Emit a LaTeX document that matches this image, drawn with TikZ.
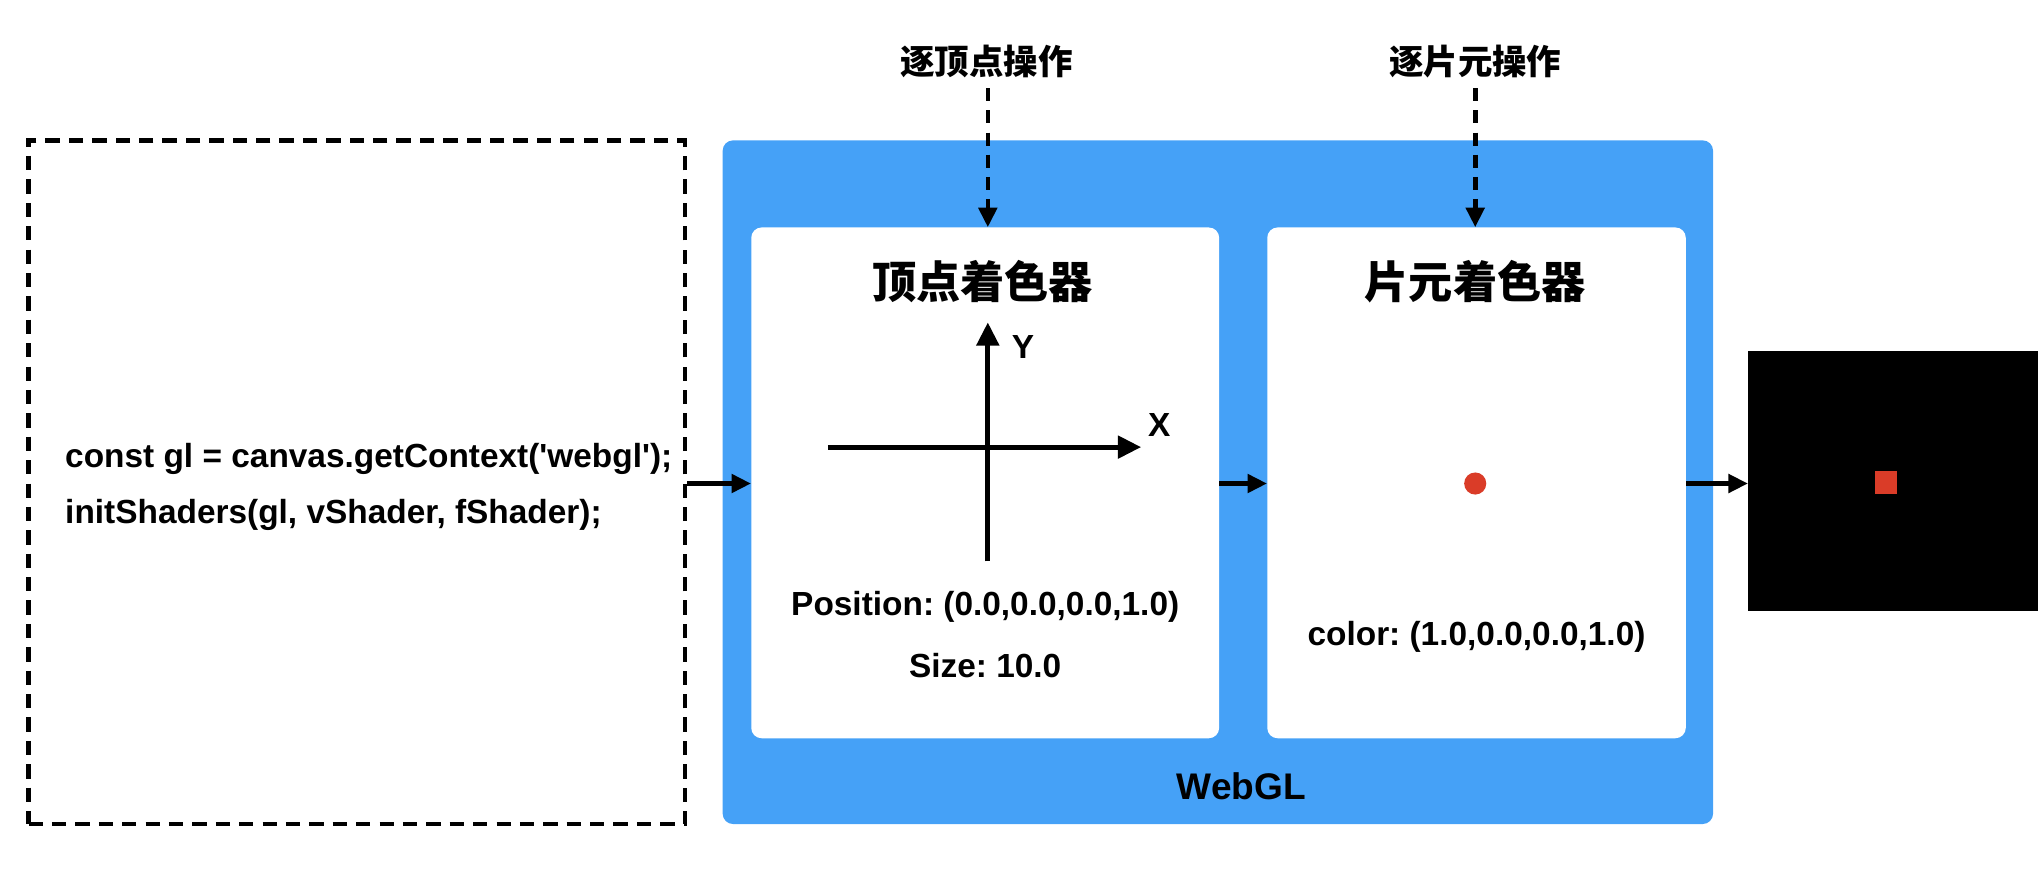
\documentclass[tikz,border=0pt]{standalone}
\usepackage{fontspec}
\setmainfont{Liberation Sans}[Ligatures=TeXOff]
\newfontfamily\cjk{Noto Sans CJK SC}
\usetikzlibrary{arrows.meta}
\definecolor{glblue}{RGB}{69,161,247}
\definecolor{dotred}{RGB}{218,60,40}
\frenchspacing
\tikzset{
  txt/.style={inner sep=0pt, font=\fontsize{25.7}{30}\selectfont\bfseries},
  cjktitle/.style={inner sep=0pt, font=\fontsize{34}{40}\selectfont\cjk\bfseries},
  cjklabel/.style={inner sep=0pt, font=\fontsize{26.5}{32}\selectfont\cjk\bfseries},
  conn/.style={line width=3.5pt, -{Triangle[length=15pt,width=14pt]}},
  dconn/.style={line width=3.5pt, dash pattern=on 10pt off 7pt, -{Triangle[length=15pt,width=14pt]}},
  axis/.style={line width=4pt, -{Triangle[length=18pt,width=17pt]}},
  whitebox/.style={fill=white, rounded corners=8pt, inner sep=0pt},
}
\begin{document}
\begin{tikzpicture}[x=1pt,y=-1pt]
\useasboundingbox (0,0) rectangle (1568,674);
% code box
\node[draw, line width=3.5pt, dash pattern=on 11pt off 7pt, minimum width=505pt, minimum height=526pt, inner sep=0pt] (code) at (274.5,371) {};
\node[txt, anchor=west] (l1) at (50,353) {const gl = canvas.getContext('webgl');};
\node[txt, anchor=west] (l2) at (50,396) {initShaders(gl, vShader, fShader);};
% WebGL box
\node[fill=glblue, rounded corners=8pt, minimum width=762pt, minimum height=526pt, inner sep=0pt] (gl) at (937,371) {};
\node[txt, text=black, font=\fontsize{28.5}{34}\selectfont\bfseries] (gllabel) at (955,605) {WebGL};
\node[whitebox, minimum width=360pt, minimum height=393pt] (vs) at (758,371.5) {};
\node[whitebox, minimum width=322pt, minimum height=393pt] (fs) at (1136,371.5) {};
\node[cjktitle] (vst) at (756,217) {顶点着色器};
\node[cjktitle] (fst) at (1135,217) {片元着色器};
% top labels
\node[cjklabel] (vop) at (759,47) {逐顶点操作};
\node[cjklabel] (fop) at (1135,47) {逐片元操作};
\coordinate (vtop) at (760,68);
\coordinate (ftop) at (1135,68);
\draw[dconn] (vtop) -- (vtop |- vs.north);
\draw[dconn] (ftop) -- (ftop |- fs.north);
% axes
\coordinate (xs) at (637,344);
\coordinate (xe) at (878,344);
\coordinate (ys) at (760,432);
\coordinate (ye) at (760,248);
\draw[axis] (xs) -- (xe);
\draw[axis] (ys) -- (ye);
\node[txt] (ylab) at (787,267) {Y};
\node[txt] (xlab) at (892,327) {X};
\node[txt] (pos) at (758,467) {Position: (0.0,0.0,0.0,1.0)};
\node[txt] (size) at (758,512) {Size: 10.0};
% fragment
\node[circle, fill=dotred, minimum size=17pt, inner sep=0pt] (dot) at (1135,372) {};
\node[txt] (col) at (1136,490) {color: (1.0,0.0,0.0,1.0)};
% output
\node[fill=black, minimum width=223pt, minimum height=200pt, inner sep=0pt] (out) at (1456.5,370) {};
\node[fill=dotred, minimum width=17pt, minimum height=18pt, inner sep=0pt] (px) at (1451,371) {};
% connectors
\draw[conn] (code.east |- 0,372) -- (vs.west |- 0,372);
\draw[conn] (vs.east |- 0,372) -- (fs.west |- 0,372);
\draw[conn] (fs.east |- 0,372) -- (out.west |- 0,372);
\end{tikzpicture}
\end{document}
